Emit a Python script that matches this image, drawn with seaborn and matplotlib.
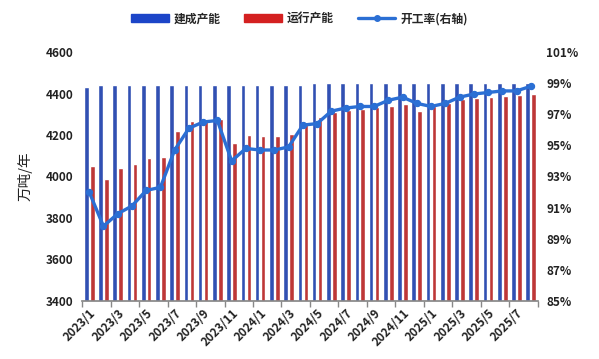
import numpy as np
import pandas as pd
import matplotlib
matplotlib.use('Agg')
import matplotlib.pyplot as plt
import seaborn as sns
from matplotlib.patches import Patch
from matplotlib.lines import Line2D

sns.set_theme(style='white')
plt.rcParams['font.family'] = ['Noto Sans CJK SC', 'DejaVu Sans']
plt.rcParams['axes.unicode_minus'] = False

# months 2023/1 .. 2025/8
months = [f'{y}/{m}' for y in (2023, 2024, 2025) for m in range(1, 13)][:32]

# 建成产能 (万吨/年)
built = [4430, 4440, 4440, 4440, 4440, 4440, 4440, 4440, 4440, 4440, 4440, 4440,
         4440, 4440, 4440, 4440, 4452, 4452, 4452, 4452, 4452, 4452, 4452, 4452,
         4452, 4452, 4452, 4452, 4452, 4452, 4452, 4452]
# 运行产能 (万吨/年)
running = [4048, 3990, 4040, 4062, 4090, 4095, 4220, 4268, 4278, 4278, 4162, 4200,
           4197, 4197, 4205, 4262, 4287, 4310, 4320, 4325, 4335, 4340, 4350, 4317,
           4340, 4355, 4375, 4380, 4385, 4390, 4395, 4400]
# 开工率 (%)
rate = [92.0, 89.8, 90.6, 91.1, 92.1, 92.3, 94.7, 96.1, 96.5, 96.6, 94.0, 94.8,
        94.7, 94.7, 94.9, 96.3, 96.4, 97.2, 97.4, 97.5, 97.5, 97.9, 98.1, 97.7,
        97.5, 97.7, 98.1, 98.3, 98.4, 98.5, 98.5, 98.8]

blue = '#1c45c8'
red = '#d42020'
line_c = '#2b6fd4'

df = pd.DataFrame({
    'month': months * 2,
    'value': built + running,
    'series': ['建成产能'] * len(months) + ['运行产能'] * len(months),
})

fig = plt.figure(figsize=(5.99, 3.59), dpi=100)
ax = fig.add_axes([0.137, 0.162, 0.761, 0.693])

sns.barplot(data=df, x='month', y='value', hue='series', order=months,
            palette=[blue, red], width=0.84, gap=0.22, ax=ax, legend=False)
ax.set_ylim(3400, 4600)
ax.set_yticks(range(3400, 4601, 200))
ax.set_xlim(-0.5, len(months) - 0.5)
ax.set_xlabel('')
ax.set_ylabel('万吨/年', fontsize=10.5, color='#222222', labelpad=10)

ax2 = ax.twinx()
sns.pointplot(x=months, y=rate, order=months, color=line_c, ax=ax2,
              markers='o', markersize=3.5, linewidth=2.4)
ax2.set_ylim(85, 101)
ax2.set_yticks(range(85, 102, 2))
ax2.set_yticklabels([f'{v}%' for v in range(85, 102, 2)])
ax2.set_xlim(-0.5, len(months) - 0.5)

ax.set_xticks(range(0, len(months), 2))
ax.set_xticklabels(months[::2], rotation=45, ha='right', rotation_mode='anchor',
                   fontsize=8.5, fontweight='bold', color='#222222')
ax.set_xticks(np.arange(-0.5, len(months), 2), minor=True)
ax.tick_params(axis='x', which='major', length=0, pad=4)
ax.tick_params(axis='x', which='minor', length=4, color='#888888', bottom=True)
ax.tick_params(axis='y', length=0, labelsize=8.5, labelcolor='#222222', pad=6)
for t in ax.get_yticklabels():
    t.set_fontweight('bold')
ax2.tick_params(axis='y', length=0, labelsize=8.5, labelcolor='#222222', pad=6)
for t in ax2.get_yticklabels():
    t.set_fontweight('bold')

for a in (ax, ax2):
    for s in ('top', 'right', 'left'):
        a.spines[s].set_visible(False)
    a.spines['bottom'].set_color('#888888')
ax2.spines['bottom'].set_visible(False)

handles = [Patch(facecolor=blue, edgecolor=blue),
           Patch(facecolor=red, edgecolor=red),
           Line2D([0], [0], color=line_c, lw=2.4, marker='o', markersize=4)]
fig.legend(handles, ['建成产能', '运行产能', '开工率(右轴)'], loc='center',
           bbox_to_anchor=(0.5, 0.948), ncol=3, frameon=False,
           prop={'size': 8.5, 'weight': 'bold'}, handlelength=3.2,
           handleheight=0.6, columnspacing=2.0, handletextpad=0.4)

fig.savefig('out.png', dpi=100)
